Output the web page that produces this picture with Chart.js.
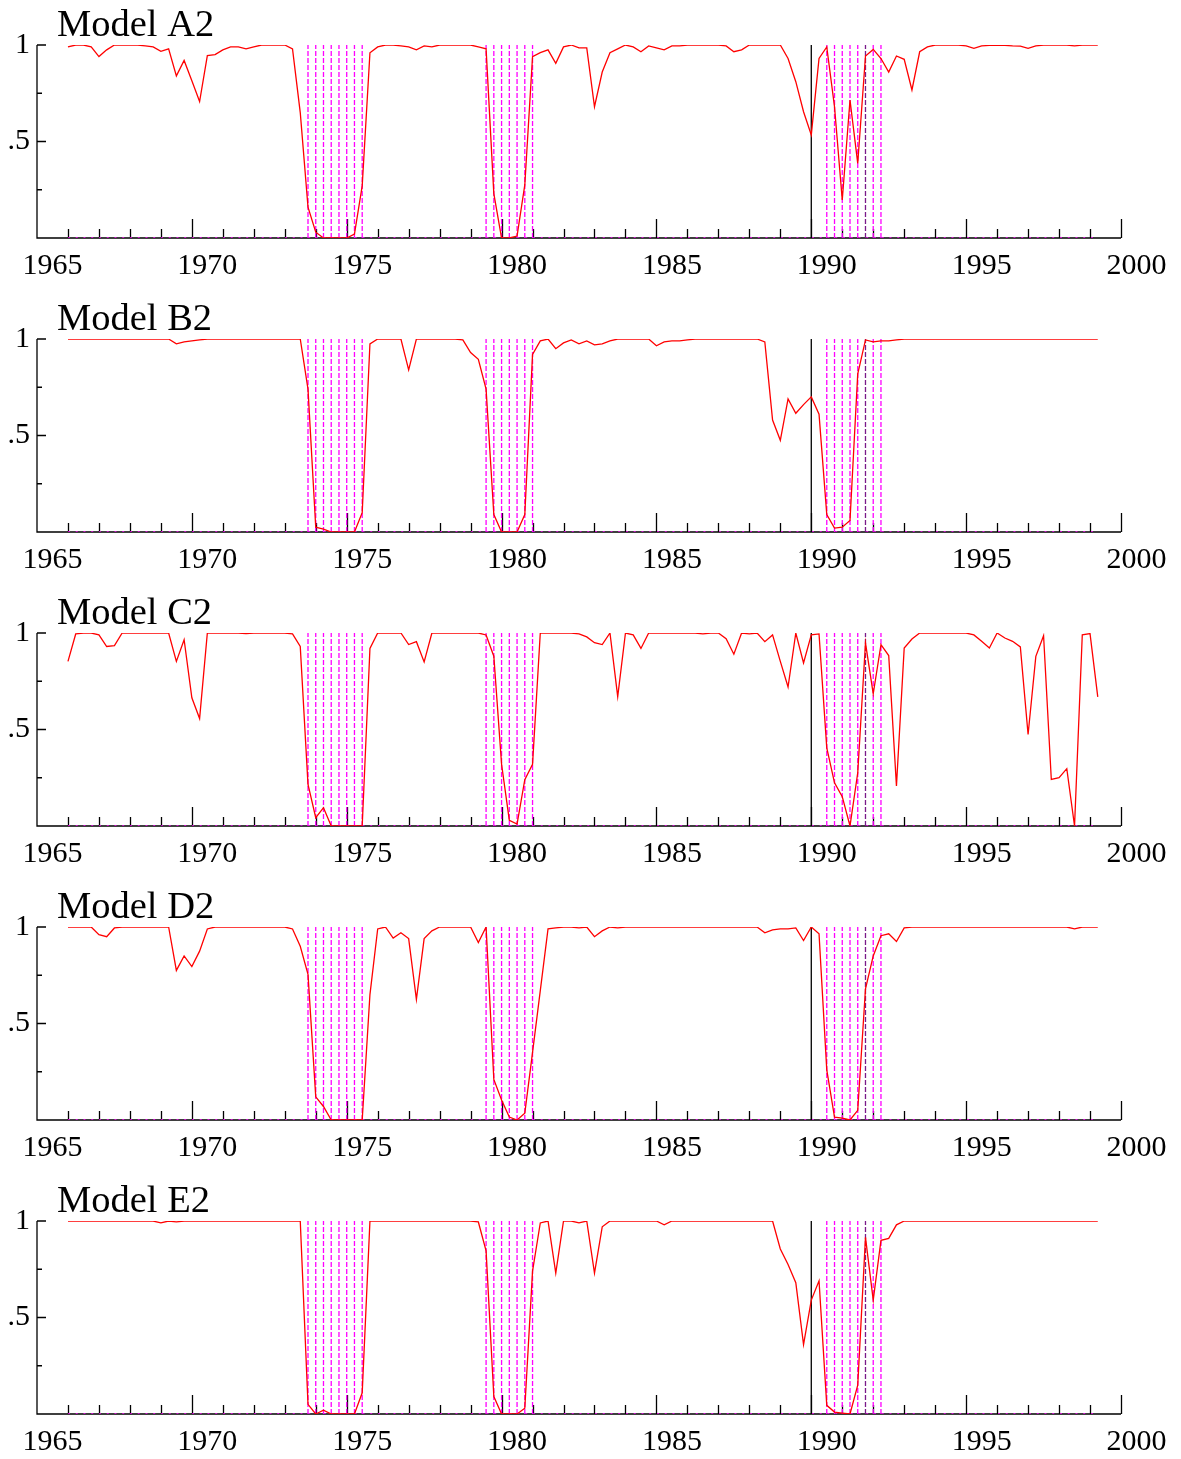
<!DOCTYPE html>
<html>
<head>
<meta charset="utf-8">
<script src="https://cdn.jsdelivr.net/npm/chart.js@4.4.1/dist/chart.umd.min.js"></script>
<style>
  body { margin: 0; background: #fff; }
  #wrap { position: relative; width: 1181px; height: 1459px; }
  canvas { position: absolute; left: 0; }
</style>
</head>
<body>
<div id="wrap"></div>
<script>
// quarterly series, first obs 1966Q1
const startYear = 1966;

const modelNames = ['Model A2', 'Model B2', 'Model C2', 'Model D2', 'Model E2'];

const modelA = [
  0.99, 1.0, 1.0, 0.99, 0.94, 0.975, 1.0, 1.0, 1.0, 1.0,
  0.995, 0.99, 0.967, 0.98, 0.84, 0.92, 0.815, 0.707, 0.945, 0.95,
  0.975, 0.99, 0.99, 0.98, 0.99, 1.0, 1.0, 1.0, 1.0, 0.98,
  0.65, 0.16, 0.03, 0.0, 0.0, 0.0, 0.0, 0.02, 0.27, 0.96,
  0.99, 1.0, 1.0, 0.995, 0.99, 0.975, 0.995, 0.99, 1.0, 1.0,
  1.0, 1.0, 1.0, 0.99, 0.98, 0.23, 0.0, 0.0, 0.01, 0.275,
  0.94, 0.96, 0.975, 0.905, 0.99, 1.0, 0.985, 0.985, 0.68, 0.86,
  0.96, 0.98, 1.0, 0.99, 0.965, 0.995, 0.985, 0.975, 0.995, 0.995,
  1.0, 1.0, 1.0, 1.0, 1.0, 0.995, 0.965, 0.975, 1.0, 1.0,
  1.0, 1.0, 1.0, 0.93, 0.81, 0.654, 0.534, 0.93, 0.99, 0.68,
  0.197, 0.715, 0.387, 0.943, 0.977, 0.93, 0.86, 0.943, 0.926, 0.767,
  0.965, 0.99, 1.0, 1.0, 1.0, 1.0, 0.995, 0.983, 0.995, 0.998,
  1.0, 0.998, 0.995, 0.994, 0.983, 0.995, 1.0, 1.0, 1.0, 1.0,
  0.995, 1.0, 1.0, 1.0
];

const modelB = [
  1.0, 1.0, 1.0, 1.0, 1.0, 1.0, 1.0, 1.0, 1.0, 1.0,
  1.0, 1.0, 1.0, 1.0, 0.975, 0.985, 0.99, 0.995, 1.0, 1.0,
  1.0, 1.0, 1.0, 1.0, 1.0, 1.0, 1.0, 1.0, 1.0, 1.0,
  1.0, 0.74, 0.025, 0.015, 0.0, 0.0, 0.0, 0.0, 0.1, 0.975,
  1.0, 1.0, 1.0, 1.0, 0.84, 1.0, 1.0, 1.0, 1.0, 1.0,
  1.0, 0.995, 0.93, 0.895, 0.74, 0.09, 0.0, 0.0, 0.0, 0.09,
  0.92, 0.99, 1.0, 0.95, 0.98, 0.995, 0.975, 0.99, 0.97, 0.975,
  0.99, 1.0, 1.0, 1.0, 1.0, 1.0, 0.965, 0.985, 0.99, 0.99,
  0.995, 1.0, 1.0, 1.0, 1.0, 1.0, 1.0, 1.0, 1.0, 1.0,
  0.985, 0.58, 0.475, 0.69, 0.615, 0.66, 0.70, 0.61, 0.09, 0.02,
  0.025, 0.06, 0.82, 0.995, 0.985, 0.99, 0.99, 0.995, 1.0, 1.0,
  1.0, 1.0, 1.0, 1.0, 1.0, 1.0, 1.0, 1.0, 1.0, 1.0,
  1.0, 1.0, 1.0, 1.0, 1.0, 1.0, 1.0, 1.0, 1.0, 1.0,
  1.0, 1.0, 1.0, 1.0
];

const modelC = [
  0.853, 0.995, 1.0, 1.0, 0.99, 0.93, 0.935, 1.0, 1.0, 1.0,
  1.0, 1.0, 1.0, 1.0, 0.853, 0.965, 0.664, 0.557, 1.0, 1.0,
  1.0, 1.0, 1.0, 0.997, 1.0, 1.0, 1.0, 1.0, 1.0, 0.995,
  0.93, 0.215, 0.043, 0.095, 0.0, 0.0, 0.0, 0.0, 0.0, 0.92,
  1.0, 1.0, 1.0, 1.0, 0.94, 0.955, 0.85, 1.0, 1.0, 1.0,
  1.0, 1.0, 1.0, 1.0, 0.99, 0.88, 0.32, 0.03, 0.01, 0.24,
  0.32, 1.0, 1.0, 1.0, 1.0, 1.0, 0.995, 0.98, 0.95, 0.94,
  1.0, 0.67, 1.0, 0.99, 0.92, 1.0, 1.0, 1.0, 1.0, 1.0,
  1.0, 1.0, 0.995, 1.0, 1.0, 0.97, 0.89, 1.0, 0.995, 1.0,
  0.955, 0.99, 0.853, 0.72, 1.0, 0.845, 0.99, 0.995, 0.405, 0.224,
  0.152, 0.0, 0.276, 0.948, 0.685, 0.94, 0.883, 0.207, 0.922, 0.969,
  1.0, 1.0, 1.0, 1.0, 1.0, 1.0, 1.0, 0.99, 0.957, 0.922,
  1.0, 0.974, 0.957, 0.928, 0.474, 0.879, 0.986, 0.241, 0.25, 0.297,
  0.0, 0.991, 0.997, 0.669
];

const modelD = [
  1.0, 1.0, 1.0, 1.0, 0.96, 0.95, 0.995, 1.0, 1.0, 1.0,
  1.0, 1.0, 1.0, 1.0, 0.775, 0.85, 0.795, 0.875, 0.99, 1.0,
  1.0, 1.0, 1.0, 1.0, 1.0, 1.0, 1.0, 1.0, 1.0, 0.99,
  0.9, 0.755, 0.12, 0.07, 0.0, 0.0, 0.0, 0.0, 0.0, 0.65,
  0.99, 1.0, 0.943, 0.97, 0.94, 0.625, 0.94, 0.98, 1.0, 1.0,
  1.0, 1.0, 1.0, 0.92, 1.0, 0.21, 0.104, 0.015, 0.0, 0.035,
  0.35, 0.67, 0.99, 0.995, 1.0, 1.0, 0.995, 1.0, 0.95, 0.98,
  1.0, 0.995, 1.0, 1.0, 1.0, 1.0, 1.0, 1.0, 1.0, 1.0,
  1.0, 1.0, 1.0, 1.0, 1.0, 1.0, 1.0, 1.0, 1.0, 1.0,
  0.97, 0.985, 0.99, 0.99, 0.995, 0.93, 1.0, 0.965, 0.26, 0.015,
  0.01, 0.0, 0.05, 0.68, 0.85, 0.955, 0.965, 0.925, 0.995, 1.0,
  1.0, 1.0, 1.0, 1.0, 1.0, 1.0, 1.0, 1.0, 1.0, 1.0,
  1.0, 1.0, 1.0, 1.0, 1.0, 1.0, 1.0, 1.0, 1.0, 1.0,
  0.99, 1.0, 1.0, 1.0
];

const modelE = [
  1.0, 1.0, 1.0, 1.0, 1.0, 1.0, 1.0, 1.0, 1.0, 1.0,
  1.0, 1.0, 0.99, 1.0, 0.995, 1.0, 1.0, 1.0, 1.0, 1.0,
  1.0, 1.0, 1.0, 1.0, 1.0, 1.0, 1.0, 1.0, 1.0, 1.0,
  1.0, 0.05, 0.0, 0.02, 0.0, 0.0, 0.0, 0.0, 0.11, 1.0,
  1.0, 1.0, 1.0, 1.0, 1.0, 1.0, 1.0, 1.0, 1.0, 1.0,
  1.0, 1.0, 1.0, 0.995, 0.845, 0.09, 0.0, 0.0, 0.0, 0.03,
  0.74, 0.99, 1.0, 0.73, 1.0, 1.0, 0.99, 1.0, 0.73, 0.97,
  1.0, 1.0, 1.0, 1.0, 1.0, 1.0, 1.0, 0.98, 1.0, 1.0,
  1.0, 1.0, 1.0, 1.0, 1.0, 1.0, 1.0, 1.0, 1.0, 1.0,
  1.0, 1.0, 0.855, 0.775, 0.68, 0.36, 0.59, 0.69, 0.045, 0.01,
  0.005, 0.0, 0.15, 0.915, 0.59, 0.9, 0.91, 0.98, 1.0, 1.0,
  1.0, 1.0, 1.0, 1.0, 1.0, 1.0, 1.0, 1.0, 1.0, 1.0,
  1.0, 1.0, 1.0, 1.0, 1.0, 1.0, 1.0, 1.0, 1.0, 1.0,
  1.0, 1.0, 1.0, 1.0
];

// recession quarters (dashed verticals) and the break date (solid line)
const recessionQuarters = [
  1973.75, 1974.0, 1974.25, 1974.5, 1974.75, 1975.0, 1975.25, 1975.5,
  1979.5, 1979.75, 1980.0, 1980.25, 1980.5, 1980.75, 1981.0,
  1990.5, 1990.75, 1991.0, 1991.25, 1991.5, 1992.0, 1992.25
];
const darkQuarters = [1991.75];
const breakDate = 1990.0;

const xTickYears = [1965, 1970, 1975, 1980, 1985, 1990, 1995, 2000];
const yTickValues = [0.5, 1];
const yMinorValues = [0.25, 0.75];

const allSeries = [modelA, modelB, modelC, modelD, modelE];

const serif = '"Liberation Serif", "Times New Roman", serif';

function toPoints(series) {
  return series.map((v, i) => ({ x: startYear + i / 4, y: v }));
}

function spikes(list) {
  const pts = [];
  list.forEach(t => {
    pts.push({ x: t, y: 0 }, { x: t, y: 1 }, { x: t, y: null });
  });
  return pts;
}

const axisMarks = {
  id: 'axisMarks',
  beforeDatasetsDraw(chart, args, opts) {
    const { ctx, chartArea: a, scales: { x, y } } = chart;
    ctx.save();
    ctx.strokeStyle = '#000';
    ctx.lineWidth = 1.3;
    ctx.beginPath();
    ctx.moveTo(a.left, a.top);
    ctx.lineTo(a.left, a.bottom);
    ctx.lineTo(a.right, a.bottom);
    for (let yr = 1966; yr <= 2000; yr++) {
      const px = Math.round(x.getPixelForValue(yr)) + 0.5;
      const len = yr % 5 === 0 ? 19 : 9;
      ctx.moveTo(px, a.bottom);
      ctx.lineTo(px, a.bottom - len);
    }
    yTickValues.forEach(v => {
      const py = y.getPixelForValue(v);
      ctx.moveTo(a.left, py);
      ctx.lineTo(a.left + 9, py);
    });
    yMinorValues.forEach(v => {
      const py = y.getPixelForValue(v);
      ctx.moveTo(a.left, py);
      ctx.lineTo(a.left + 5, py);
    });
    ctx.stroke();
    ctx.restore();
  },
  afterDraw(chart, args, opts) {
    const { ctx, chartArea: a } = chart;
    ctx.save();
    ctx.fillStyle = '#000';
    ctx.font = '38.5px ' + serif;
    ctx.textBaseline = 'alphabetic';
    ctx.textAlign = 'left';
    ctx.fillText(opts.title, a.left + 20, 36);
    ctx.restore();
  }
};

const wrap = document.getElementById('wrap');

allSeries.forEach((series, k) => {
  const cv = document.createElement('canvas');
  cv.width = 1181;
  cv.height = 294;
  cv.style.top = (294 * k) + 'px';
  wrap.appendChild(cv);

  new Chart(cv, {
    type: 'line',
    data: {
      datasets: [
        {
          label: modelNames[k],
          data: toPoints(series),
          borderColor: '#ff0000',
          borderWidth: 1.3,
          pointRadius: 0,
          tension: 0,
          order: 0
        },
        {
          data: [{ x: breakDate, y: 0 }, { x: breakDate, y: 1 }],
          borderColor: '#000000',
          borderWidth: 1.3,
          pointRadius: 0,
          order: 1
        },
        {
          data: spikes(darkQuarters),
          borderColor: '#7a1a8a',
          borderDash: [5, 2],
          borderWidth: 1.3,
          pointRadius: 0,
          order: 2
        },
        {
          data: spikes(recessionQuarters),
          borderColor: '#ff00ff',
          borderDash: [5, 2],
          borderWidth: 1.3,
          pointRadius: 0,
          order: 3
        },
        {
          data: [{ x: startYear, y: 0 }, { x: startYear + (series.length - 1) / 4, y: 0 }],
          borderColor: '#ff00ff',
          borderDash: [2, 5.75],
          borderWidth: 1.5,
          pointRadius: 0,
          order: 4
        }
      ]
    },
    options: {
      responsive: false,
      animation: false,
      events: [],
      layout: { padding: { top: 45, right: 60, left: 0, bottom: 0 } },
      plugins: {
        legend: { display: false },
        tooltip: { enabled: false },
        title: { display: false },
        axisMarks: { title: modelNames[k] }
      },
      scales: {
        x: {
          type: 'linear',
          min: 1965,
          max: 2000,
          grid: { display: false, drawTicks: false },
          border: { display: false },
          afterBuildTicks: s => { s.ticks = xTickYears.map(v => ({ value: v })); },
          afterFit: s => { s.height = 56; s.paddingLeft = 0; s.paddingRight = 0; },
          ticks: {
            autoSkip: false,
            maxRotation: 0,
            labelOffset: 15.5,
            padding: 10,
            color: '#000',
            font: { family: serif, size: 30 },
            callback: v => String(v)
          }
        },
        y: {
          min: 0,
          max: 1,
          grid: { display: false, drawTicks: false },
          border: { display: false },
          afterBuildTicks: s => { s.ticks = yTickValues.map(v => ({ value: v })); },
          afterFit: s => { s.width = 37; s.paddingTop = 0; s.paddingBottom = 0; },
          ticks: {
            padding: 7,
            color: '#000',
            font: { family: serif, size: 30 },
            callback: v => (v === 1 ? '1' : '.5')
          }
        }
      }
    },
    plugins: [axisMarks]
  });
});
</script>
</body>
</html>
